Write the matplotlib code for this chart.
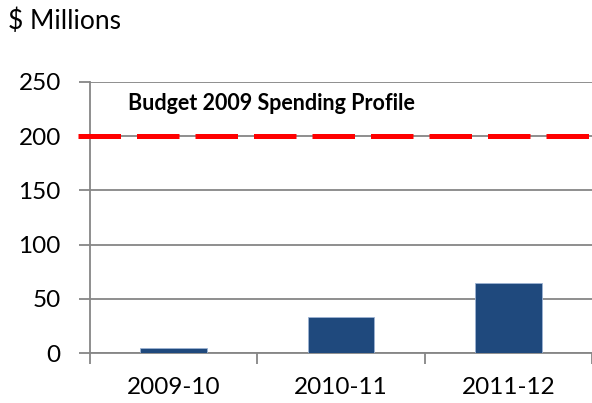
import numpy as np
import matplotlib
matplotlib.use("Agg")
import matplotlib.pyplot as plt
import matplotlib.transforms as mtransforms

plt.rcParams['font.family'] = ['Lato', 'DejaVu Sans']

years = ["2009-10", "2010-11", "2011-12"]
spending = [5, 33, 65]
budget_level = 200
budget_label = "Budget 2009 Spending Profile"
y_ticks = [0, 50, 100, 150, 200, 250]

fig = plt.figure(figsize=(5.92, 4.03), dpi=100)
ax = fig.add_axes([90 / 592, 1 - 353 / 403, 502 / 592, 271 / 403])

grid_col = "#868686"
x = np.arange(len(years))
ax.bar(x, spending, width=0.4, color="#1F497D", edgecolor="#9DB3D3", linewidth=0.6, zorder=3)

ax.set_xlim(-0.5, len(years) - 0.5)
ax.set_ylim(0, 250)
ax.set_yticks(y_ticks)
ax.set_yticklabels([str(v) for v in y_ticks], fontsize=17.5)
ax.yaxis.grid(True, color=grid_col, linewidth=1.3, zorder=0)
ax.set_axisbelow(True)

# category labels at centres, tick marks at the category boundaries
ax.set_xticks(x)
ax.set_xticklabels(years, fontsize=17.5)
ax.tick_params(axis='x', which='major', length=0, pad=17)
ax.set_xticks(np.arange(-0.5, len(years), 1.0), minor=True)
ax.tick_params(axis='x', which='minor', length=8, width=1.3, color=grid_col, direction='out')
ax.tick_params(axis='y', length=8, width=1.3, color=grid_col, pad=13)

for side in ['top', 'right']:
    ax.spines[side].set_visible(False)
for side in ['left', 'bottom']:
    ax.spines[side].set_color(grid_col)
    ax.spines[side].set_linewidth(1.3)

# dashed budget line, starting just left of the y axis
trans = mtransforms.blended_transform_factory(ax.transAxes, ax.transData)
ax.plot([-12 / 502, 1.0], [budget_level, budget_level], transform=trans,
        color="#FF0000", linewidth=3.6, dashes=(8.5, 3.2), clip_on=False, zorder=4)
ax.text(0.075, 230, budget_label, transform=trans, fontsize=15.5,
        fontweight='bold', va='center', ha='left')

fig.text(8 / 592, 1 - 21 / 403, "$ Millions", fontsize=19, va='center', ha='left')

fig.savefig("out.png", dpi=100)
